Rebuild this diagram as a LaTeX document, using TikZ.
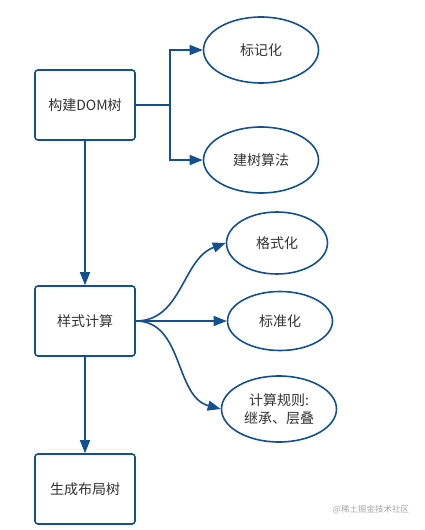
\documentclass[tikz,border=0pt]{standalone}
\usepackage{fontspec}
\newfontfamily\cjk{Noto Sans CJK SC}
\usetikzlibrary{arrows.meta,shapes.geometric}
\definecolor{lc}{HTML}{12508F}
\definecolor{tc}{HTML}{333333}
\begin{document}
\begin{tikzpicture}[x=1pt,y=-1pt,
  font=\cjk\fontsize{14}{18}\selectfont,
  every node/.style={text=tc},
  boxnode/.style={draw=lc, line width=1.6pt, rounded corners=3pt, minimum width=100pt, minimum height=70pt, inner sep=0pt, fill=white},
  ellnode/.style={draw=lc, line width=1.6pt, ellipse, inner sep=0pt, align=center},
  conn/.style={draw=lc, line width=1.6pt, -{Triangle[length=13pt,width=10pt]}},
]
\useasboundingbox (0,0) rectangle (425,530);
\node[boxnode] (b1) at (85,105) {构建DOM树};
\node[boxnode] (b2) at (85,321) {样式计算};
\node[boxnode] (b3) at (85,489) {生成布局树};
\node[ellnode, minimum width=115pt, minimum height=66pt] (e1) at (261,50) {标记化};
\node[ellnode, minimum width=115pt, minimum height=66pt] (e2) at (261,160) {建树算法};
\node[ellnode, minimum width=101pt, minimum height=62pt] (e3) at (277,243) {格式化};
\node[ellnode, minimum width=105pt, minimum height=59pt] (e4) at (280,321) {标准化};
\node[ellnode, minimum width=115pt, minimum height=66pt] (e5) at (279,409) {计算规则:\\继承、层叠};
\coordinate (j) at (170,105);
\draw[draw=lc, line width=1.6pt] (b1.east) -- (j);
\draw[conn] (j) |- (e1.west);
\draw[conn] (j) |- (e2.west);
\draw[conn] (b1.south) -- (b2.north);
\draw[conn] (b2.south) -- (b3.north);
\draw[conn] (b2.east) to[out=0, in=200] (e3.west);
\draw[conn] (b2.east) -- (e4.west);
\draw[conn] (b2.east) to[out=0, in=165] (e5.west);
\node[text=black!35, font=\cjk\fontsize{8.5}{10}\selectfont] (wm) at (371,510) {@稀土掘金技术社区};
\end{tikzpicture}
\end{document}
